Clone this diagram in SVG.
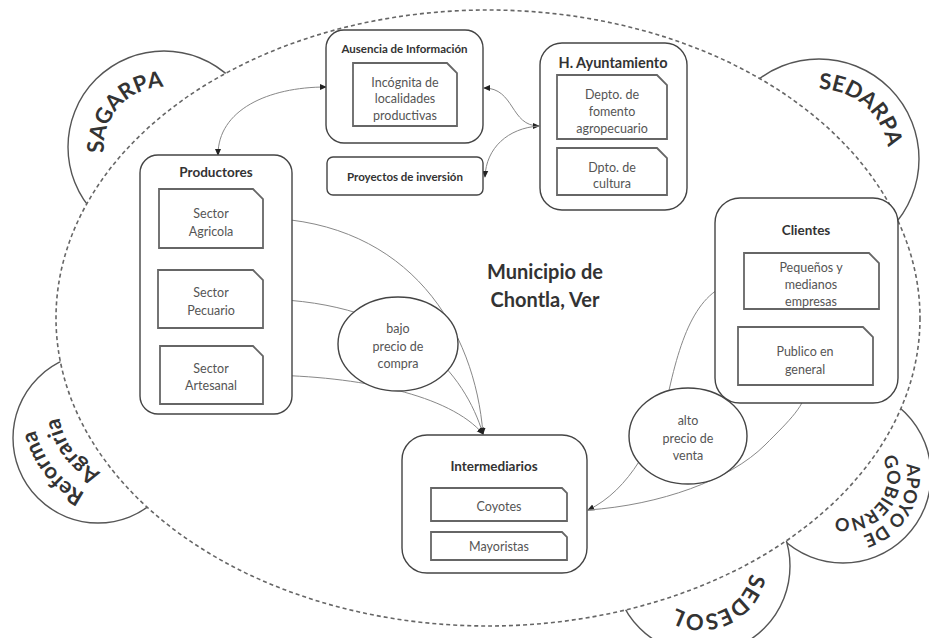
<svg xmlns="http://www.w3.org/2000/svg" width="929" height="638" viewBox="0 0 929 638">
  <defs>
    <marker id="arrow" viewBox="0 0 8 8" refX="7" refY="4" markerWidth="7" markerHeight="7" markerUnits="userSpaceOnUse" orient="auto-start-reverse">
      <path d="M0,0.5 L8,4 L0,7.5 Z" fill="#222"/>
    </marker>
    <!-- baselines for the lettering of the outer lobes (clockwise, letters face outwards) -->
    <path id="p-sagarpa" d="M116.7,183.9 A60,60 0 0 1 195.8,96.1"/>
    <path id="p-sedarpa" d="M774,105.4 A70,70 0 0 1 879.6,194"/>
    <path id="p-reforma" d="M142.3,503.1 A96,96 0 0 1 40,372"/>
    <path id="p-agraria" d="M137.5,477.5 A70,70 0 0 1 64.5,380.6"/>
    <path id="p-apoyo" d="M885,426.7 A64,64 0 0 1 820.1,534.8"/>
    <path id="p-gobierno" d="M871.6,445 A41,41 0 0 1 820.7,509.4"/>
    <path id="p-sedesol" d="M747.3,544.9 A50,50 0 0 1 656.7,587.1"/>
  </defs>
  <style>
    .lobe { fill: #fff; stroke: #555; stroke-width: 1.4; }
    .lobe-text { font-family: Lato, "Liberation Sans", sans-serif; font-weight: bold; font-size: 22px; fill: #333; }
    .muni { fill: #fff; stroke: #666; stroke-width: 1.6; stroke-dasharray: 4 3; }
    .box { fill: #fff; stroke: #444; stroke-width: 1.4; }
    .sub { fill: #fff; stroke: #666; stroke-width: 1.8; }
    .oval { fill: #fff; stroke: #444; stroke-width: 1.4; }
    .title { font-family: Lato, "Liberation Sans", sans-serif; font-weight: bold; font-size: 13.5px; fill: #333; text-anchor: middle; }
    .label { font-family: Lato, "Liberation Sans", sans-serif; font-size: 12.5px; fill: #555; text-anchor: middle; }
    .big { font-family: Lato, "Liberation Sans", sans-serif; font-weight: bold; font-size: 20px; fill: #333; text-anchor: middle; }
    .link { fill: none; stroke: #888; stroke-width: 1; }
  </style>

  <rect width="929" height="638" fill="#fff"/>

  <!-- outer agencies -->
  <g id="lobes">
    <circle class="lobe" cx="164" cy="147" r="96"/>
    <circle class="lobe" cx="819" cy="159" r="100"/>
    <circle class="lobe" cx="98" cy="438" r="85"/>
    <circle class="lobe" cx="843" cy="475" r="88"/>
    <circle class="lobe" cx="702" cy="566" r="88"/>
  </g>

  <!-- municipality boundary -->
  <g id="municipio">
    <ellipse class="muni" cx="488" cy="318" rx="432" ry="308"/>
    <text class="big" x="545" y="279">Municipio de</text>
    <text class="big" x="545" y="307">Chontla, Ver</text>
  </g>

  <g id="sagarpa">
    <text class="lobe-text"><textPath href="#p-sagarpa" startOffset="50%" text-anchor="middle">SAGARPA</textPath></text>
  </g>
  <g id="sedarpa">
    <text class="lobe-text"><textPath href="#p-sedarpa" startOffset="50%" text-anchor="middle">SEDARPA</textPath></text>
  </g>
  <g id="reforma-agraria">
    <text class="lobe-text"><textPath href="#p-reforma" startOffset="50%" text-anchor="middle">Reforma</textPath></text>
    <text class="lobe-text"><textPath href="#p-agraria" startOffset="50%" text-anchor="middle">Agraria</textPath></text>
  </g>
  <g id="apoyo-gobierno">
    <text class="lobe-text" style="font-size:18px"><textPath href="#p-apoyo" startOffset="50%" text-anchor="middle">APOYO DE</textPath></text>
    <text class="lobe-text" style="font-size:18px"><textPath href="#p-gobierno" startOffset="50%" text-anchor="middle">GOBIERNO</textPath></text>
  </g>
  <g id="sedesol">
    <text class="lobe-text"><textPath href="#p-sedesol" startOffset="50%" text-anchor="middle">SEDESOL</textPath></text>
  </g>

  <!-- connectors -->
  <g id="connectors">
    <path class="link" d="M218,155 C218,110 268,87 326,87" marker-start="url(#arrow)" marker-end="url(#arrow)"/>
    <path class="link" d="M484,88 C515,88 510,126 539,126" marker-start="url(#arrow)" marker-end="url(#arrow)"/>
    <path class="link" d="M539,126 C508,128 486,148 485,177" marker-end="url(#arrow)"/>
    <path class="link" d="M483,434 C475,330 410,222 264,218" marker-start="url(#arrow)" marker-end="url(#arrow)"/>
    <path class="link" d="M483,434 C465,375 410,302 264,299" marker-start="url(#arrow)" marker-end="url(#arrow)"/>
    <path class="link" d="M483,434 C450,395 360,376 264,375" marker-start="url(#arrow)" marker-end="url(#arrow)"/>
    <path class="link" d="M588,510 C630,490 655,440 668,395 C682,330 700,285 743,281" marker-start="url(#arrow)" marker-end="url(#arrow)"/>
    <path class="link" d="M588,510 C660,505 730,480 765,445 C790,420 806,405 807,386" marker-end="url(#arrow)"/>
  </g>

  <g id="productores">
    <rect class="box" x="140" y="155" width="152" height="259" rx="18"/>
    <text class="title" x="216" y="177">Productores</text>
  </g>
  <g id="sector-agricola">
    <path class="sub" d="M159,189 H253 L263,199 V248 H159 Z"/>
    <text class="label" x="211" y="217.5">Sector</text>
    <text class="label" x="211" y="236">Agricola</text>
  </g>
  <g id="sector-pecuario">
    <path class="sub" d="M158,270 H253 L263,280 V328 H158 Z"/>
    <text class="label" x="211" y="296.5">Sector</text>
    <text class="label" x="211" y="314.5">Pecuario</text>
  </g>
  <g id="sector-artesanal">
    <path class="sub" d="M160,346 H253 L263,356 V404 H160 Z"/>
    <text class="label" x="211" y="372.5">Sector</text>
    <text class="label" x="211" y="390">Artesanal</text>
  </g>

  <g id="ausencia">
    <rect class="box" x="326" y="30" width="157" height="113" rx="18"/>
    <text class="title" x="404.5" y="53" style="font-size:11.5px">Ausencia de Información</text>
  </g>
  <g id="incognita">
    <path class="sub" d="M353,63 H447 L457,73 V126 H353 Z"/>
    <text class="label" x="405" y="86.5">Incógnita de</text>
    <text class="label" x="405" y="103">localidades</text>
    <text class="label" x="405" y="119.5">productivas</text>
  </g>
  <g id="proyectos">
    <rect class="box" x="327" y="157" width="156" height="38" rx="6"/>
    <text class="title" x="405" y="181" style="font-size:11.5px">Proyectos de inversión</text>
  </g>

  <g id="ayuntamiento">
    <rect class="box" x="540" y="43" width="147" height="167" rx="22"/>
    <text class="title" x="613" y="68" style="font-size:14.5px">H. Ayuntamiento</text>
  </g>
  <g id="fomento">
    <path class="sub" d="M557,75 H657 L667,85 V139 H557 Z"/>
    <text class="label" x="612" y="98.5">Depto. de</text>
    <text class="label" x="612" y="115.5">fomento</text>
    <text class="label" x="612" y="133">agropecuario</text>
  </g>
  <g id="cultura">
    <path class="sub" d="M557,148 H657 L667,158 V195 H557 Z"/>
    <text class="label" x="612" y="171.5">Dpto. de</text>
    <text class="label" x="612" y="188">cultura</text>
  </g>

  <g id="clientes">
    <rect class="box" x="715" y="198" width="183" height="205" rx="25"/>
    <text class="title" x="806" y="234.5">Clientes</text>
  </g>
  <g id="pequenos">
    <path class="sub" d="M744,253 H869 L879,263 V309 H744 Z"/>
    <text class="label" x="811" y="271.5">Pequeños y</text>
    <text class="label" x="811" y="289">medianos</text>
    <text class="label" x="811" y="306">empresas</text>
  </g>
  <g id="publico">
    <path class="sub" d="M738,327 H863 L873,337 V385 H738 Z"/>
    <text class="label" x="805" y="355.5">Publico en</text>
    <text class="label" x="805" y="374">general</text>
  </g>

  <g id="intermediarios">
    <rect class="box" x="402" y="435" width="185" height="138" rx="25"/>
    <text class="title" x="494" y="470.5">Intermediarios</text>
  </g>
  <g id="coyotes">
    <path class="sub" d="M431,488 H562 L567,493 V521 H431 Z"/>
    <text class="label" x="499" y="511">Coyotes</text>
  </g>
  <g id="mayoristas">
    <path class="sub" d="M431,532 H562 L567,537 V560 H431 Z"/>
    <text class="label" x="499" y="550.5">Mayoristas</text>
  </g>

  <g id="bajo-precio">
    <ellipse class="oval" cx="398" cy="344" rx="60" ry="47"/>
    <text class="label" x="398" y="332.5">bajo</text>
    <text class="label" x="398" y="350.5">precio de</text>
    <text class="label" x="398" y="367.5">compra</text>
  </g>
  <g id="alto-precio">
    <ellipse class="oval" cx="688" cy="436" rx="59" ry="48"/>
    <text class="label" x="688" y="424.5">alto</text>
    <text class="label" x="688" y="442.5">precio de</text>
    <text class="label" x="688" y="459.5">venta</text>
  </g>
</svg>
